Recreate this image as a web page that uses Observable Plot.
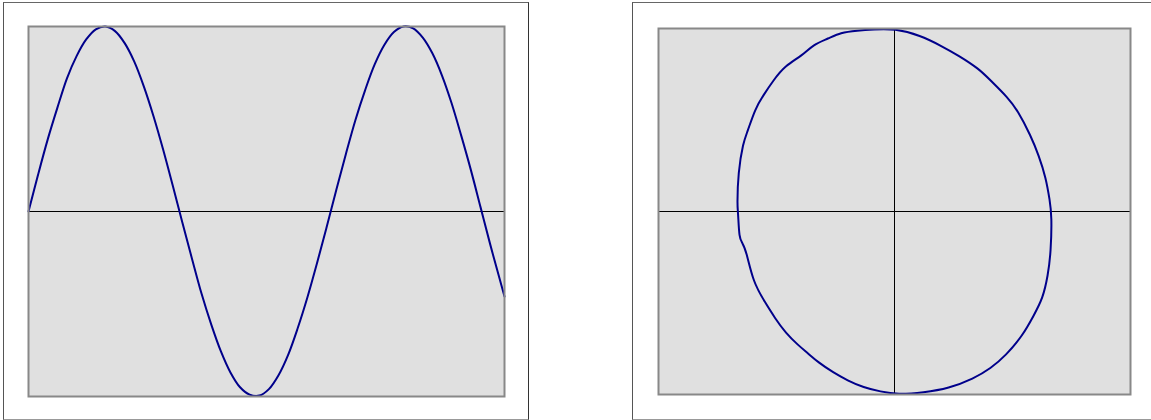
<!DOCTYPE html>
<html>
<head>
<meta charset="utf-8">
<script src="https://cdn.jsdelivr.net/npm/d3@7"></script>
<script src="https://cdn.jsdelivr.net/npm/@observablehq/plot@0.6"></script>
<style>
  html, body { margin: 0; padding: 0; background: #fff; width: 1151px; height: 420px; overflow: hidden; position: relative; font-family: "DejaVu Sans", sans-serif; }
  .panel { position: absolute; border-top: 1px solid #666; border-left: 1px solid #555; border-right: 1px solid #333; border-bottom: 1px solid #999; }
  .panel svg { display: block; }
</style>
</head>
<body>
<div id="left" class="panel" style="left:3px; top:2px; width:524px; height:416px;"></div>
<div id="right" class="panel" style="left:632px; top:2px; width:524px; height:416px;"></div>
<script>
// Left panel: wave, time vs value
const waveT = [0, 0.2, 0.4, 0.6, 0.8, 1.0, 1.2, 1.4, 1.6, 1.8, 2.0, 2.2, 2.4, 2.6, 2.8, 3.0, 3.2, 3.4, 3.6, 3.8, 4.0, 4.2, 4.4, 4.6, 4.8, 5.0, 5.2, 5.4, 5.6, 5.8, 6.0, 6.2, 6.4, 6.6, 6.8, 7.0, 7.2, 7.4, 7.6, 7.8, 8.0, 8.2, 8.4, 8.6, 8.8, 9.0, 9.2, 9.4, 9.6, 9.8, 9.9];
const waveV = [0, 0.20, 0.39, 0.56, 0.72, 0.84, 0.93, 0.985, 1.0, 0.975, 0.91, 0.81, 0.675, 0.515, 0.335, 0.14, -0.06, -0.255, -0.445, -0.61, -0.755, -0.87, -0.95, -0.99, -0.995, -0.96, -0.885, -0.775, -0.63, -0.465, -0.28, -0.085, 0.115, 0.31, 0.495, 0.655, 0.795, 0.9, 0.97, 1.0, 0.99, 0.94, 0.855, 0.735, 0.585, 0.41, 0.225, 0.025, -0.175, -0.365, -0.46];

// Right panel: closed loop (x, y), clockwise from the top
const loopX = [0, 0.166, 0.293, 0.408, 0.535, 0.611, 0.720, 0.783, 0.866, 0.917, 0.962, 0.987, 1.0, 0.994, 0.975, 0.943, 0.885, 0.815, 0.707, 0.611, 0.503, 0.344, 0.185, 0.019,
  -0.089, -0.197, -0.299, -0.389, -0.484, -0.548, -0.611, -0.694, -0.758, -0.822, -0.898, -0.943, -0.968, -0.987, -0.994, -1.0, -0.994, -0.962, -0.936, -0.885, -0.834, -0.771, -0.694, -0.586, -0.516, -0.42, -0.344, -0.236, -0.134];
const loopY = [1.0, 0.962, 0.907, 0.852, 0.781, 0.716, 0.623, 0.552, 0.415, 0.306, 0.186, 0.060, -0.022, -0.224, -0.350, -0.475, -0.568, -0.678, -0.787, -0.858, -0.913, -0.967, -0.989, -1.0,
  -0.984, -0.962, -0.923, -0.880, -0.825, -0.776, -0.732, -0.661, -0.585, -0.497, -0.388, -0.213, -0.169, -0.148, -0.005, 0.033, 0.213, 0.377, 0.432, 0.563, 0.634, 0.716, 0.798, 0.852, 0.913, 0.945, 0.978, 0.989, 0.995];

const lineColor = "#00008b";
const bg = "#e0e0e0";

const wave = waveT.map((t, i) => ({t, v: waveV[i]}));
const loop = loopX.map((x, i) => ({x, y: loopY[i]}));

const leftPlot = Plot.plot({
  width: 524, height: 416,
  marginLeft: 24, marginRight: 24, marginTop: 23, marginBottom: 23,
  x: {domain: [0, 9.9], axis: null},
  y: {domain: [-1, 1], axis: null},
  marks: [
    Plot.frame({fill: bg, stroke: "none"}),
    Plot.ruleY([0], {stroke: "#000", strokeWidth: 1}),
    Plot.line(wave, {x: "t", y: "v", stroke: lineColor, strokeWidth: 2, curve: "catmull-rom"}),
    Plot.frame({stroke: "#888", strokeWidth: 2})
  ]
});
document.getElementById("left").appendChild(leftPlot);

const rightPlot = Plot.plot({
  width: 524, height: 416,
  marginLeft: 25, marginRight: 27, marginTop: 25, marginBottom: 25,
  x: {domain: [-1.5, 1.5], axis: null},
  y: {domain: [-1, 1], axis: null},
  marks: [
    Plot.frame({fill: bg, stroke: "none"}),
    Plot.ruleY([0], {stroke: "#000", strokeWidth: 1}),
    Plot.ruleX([0], {stroke: "#000", strokeWidth: 1}),
    Plot.line(loop, {x: "x", y: "y", stroke: lineColor, strokeWidth: 2, curve: "basis-closed"}),
    Plot.frame({stroke: "#888", strokeWidth: 2})
  ]
});
document.getElementById("right").appendChild(rightPlot);
</script>
</body>
</html>
